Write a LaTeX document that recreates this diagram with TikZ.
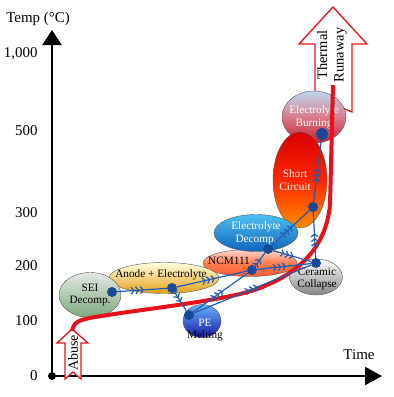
\documentclass[tikz,border=0pt]{standalone}
\usepackage{fontspec}
\setmainfont{Liberation Serif}
\usetikzlibrary{arrows.meta,shapes.geometric,decorations.markings}

\definecolor{flowblue}{HTML}{1F5CB3}
\definecolor{dotblue}{HTML}{174A96}
\definecolor{runred}{HTML}{E8101C}
\definecolor{burntop}{HTML}{BCD9F0}
\definecolor{burnmid}{HTML}{D87C8C}
\definecolor{burnbot}{HTML}{C81E32}
\definecolor{dectop}{HTML}{4EC0F2}
\definecolor{decbot}{HTML}{0E64B8}

\tikzset{
  blob/.style={ellipse, draw=black!65, line width=0.4bp, inner sep=0pt},
  lbl/.style={align=center, font=\fontsize{11.3}{12.8}\selectfont},
  dot/.style={circle, fill=dotblue, inner sep=0pt, minimum size=10bp},
  flow/.style={draw=flowblue, line width=1.2bp, postaction={decorate},
    decoration={markings, mark=at position 0.55 with {\arrow{Straight Barb[length=2.6bp,width=7bp,sep=0.7bp]Straight Barb[length=2.6bp,width=7bp,sep=0.7bp]Straight Barb[length=2.6bp,width=7bp,sep=0.7bp]}}}},
  hollow/.style={draw=runred, line width=1.3bp, fill=white, line join=miter},
  tick/.style={anchor=east, font=\fontsize{15}{17}\selectfont}
}

\begin{document}
\begin{tikzpicture}[x=1bp,y=-1bp]
  \useasboundingbox (0,0) rectangle (394,397);

  % axes
  \coordinate (o) at (52,376);
  \coordinate (ytip) at (52,30);
  \coordinate (xtip) at (382,376);
  \draw[line width=2.4bp, -{Triangle[length=15bp,width=19bp]}] (o) -- (ytip);
  \draw[line width=2.4bp, -{Triangle[length=17bp,width=18bp]}] (o) -- (xtip);
  \fill (o) circle (4bp);
  \node[tick] (t0)    at (41,376) {0};
  \node[tick] (t100)  at (41,321) {100};
  \node[tick] (t200)  at (41,266) {200};
  \node[tick] (t300)  at (41,213) {300};
  \node[tick] (t500)  at (41,131) {500};
  \node[tick] (t1000) at (41,54)  {1,000};
  \node[font=\fontsize{15}{17}\selectfont] (temp) at (38,19) {Temp (°C)};
  \node[font=\fontsize{15}{17}\selectfont] (time) at (359,355) {Time};

  % hollow arrows
  \draw[hollow] (333,7) -- (367,44) -- (352,44) -- (352,112) -- (333,104)
    -- (315,112) -- (315,44) -- (299,44) -- cycle;
  \node[rotate=90, align=center, font=\fontsize{14.5}{16.5}\selectfont] (rtxt)
    at (332,55) {Thermal\\Runaway};
  \draw[hollow] (72,329) -- (88,343) -- (81,343) -- (81,379) -- (73,372)
    -- (65,379) -- (65,343) -- (57,343) -- cycle;
  \node[rotate=90, font=\fontsize{14}{16}\selectfont] (abtxt) at (73,353) {Abuse};

  % reactions
  \node[blob, minimum width=64bp, minimum height=52bp,
    top color=burntop, bottom color=burnbot, middle color=burnmid,
    label={[lbl,white]center:Electrolyte\\Burning}] (burn) at (314,117) {};
  \node[blob, minimum width=54bp, minimum height=96bp,
    top color=red!85!black, bottom color=orange!90!yellow, middle color=red!70!orange,
    label={[lbl,white,xshift=-5bp]center:Short\\Circuit}] (short) at (300,180) {};
  \node[blob, minimum width=94bp, minimum height=27bp,
    top color=red!15!white, bottom color=red!60!orange!80, middle color=red!45!orange!70,
    label={[lbl,xshift=-21bp,yshift=2bp]center:NCM111}] (ncm) at (250,263) {};
  \node[blob, minimum width=84bp, minimum height=37bp,
    top color=dectop, bottom color=decbot,
    label={[lbl,white]center:Electrolyte\\Decomp.}] (decomp) at (256,233) {};
  \node[blob, minimum width=110bp, minimum height=31bp,
    top color=yellow!12, bottom color=orange!55!yellow!60!brown,
    label={[lbl,xshift=-3bp,yshift=3bp]center:Anode + Electrolyte}] (anode) at (164,278) {};
  \node[blob, minimum width=62bp, minimum height=45bp,
    top color=green!8!gray!20, bottom color=green!20!gray!85,
    label={[lbl]center:SEI\\Decomp.}] (sei) at (90,295) {};
  \node[blob, minimum width=53bp, minimum height=36bp,
    top color=white, bottom color=gray!95,
    label={[lbl,xshift=1bp,yshift=-2bp]center:Ceramic\\Collapse}] (ceramic) at (316,277) {};
  \node[blob, minimum width=38bp, minimum height=33bp,
    top color=cyan!50!blue!60, bottom color=blue!60!black!90,
    label={[lbl,xshift=3bp,yshift=-9bp]center:{\color{white}PE}\\Melting}] (pe) at (202,321) {};

  % temperature path
  \coordinate (abtop) at (72,331);
  \coordinate (rrtop) at (333,85);
  \draw[runred, line width=4bp] (abtop) .. controls (74,322) and (78,320) .. (95,317)
    .. controls (150,308) and (230,300) .. (260,288)
    .. controls (290,276) and (325,255) .. (330,205) -- (rrtop);

  % reaction chain
  \node[dot] (a) at (112,292) {};
  \node[dot] (b) at (172,288) {};
  \node[dot] (c) at (189,315) {};
  \node[dot] (d) at (252,270) {};
  \node[dot] (e) at (268,249) {};
  \node[dot] (f) at (316,263) {};
  \node[dot] (g) at (313,207) {};
  \node[dot, minimum size=12bp] (h) at (322,134) {};
  \path (a) edge[flow] (b)
        (b) edge[flow] (d) edge[flow] (c)
        (c) edge[flow] (d) edge[flow] (f)
        (d) edge[flow] (e) edge[flow] (f)
        (e) edge[flow] (g) edge[flow] (f)
        (f) edge[flow] (g)
        (g) edge[flow] (h);
\end{tikzpicture}
\end{document}
